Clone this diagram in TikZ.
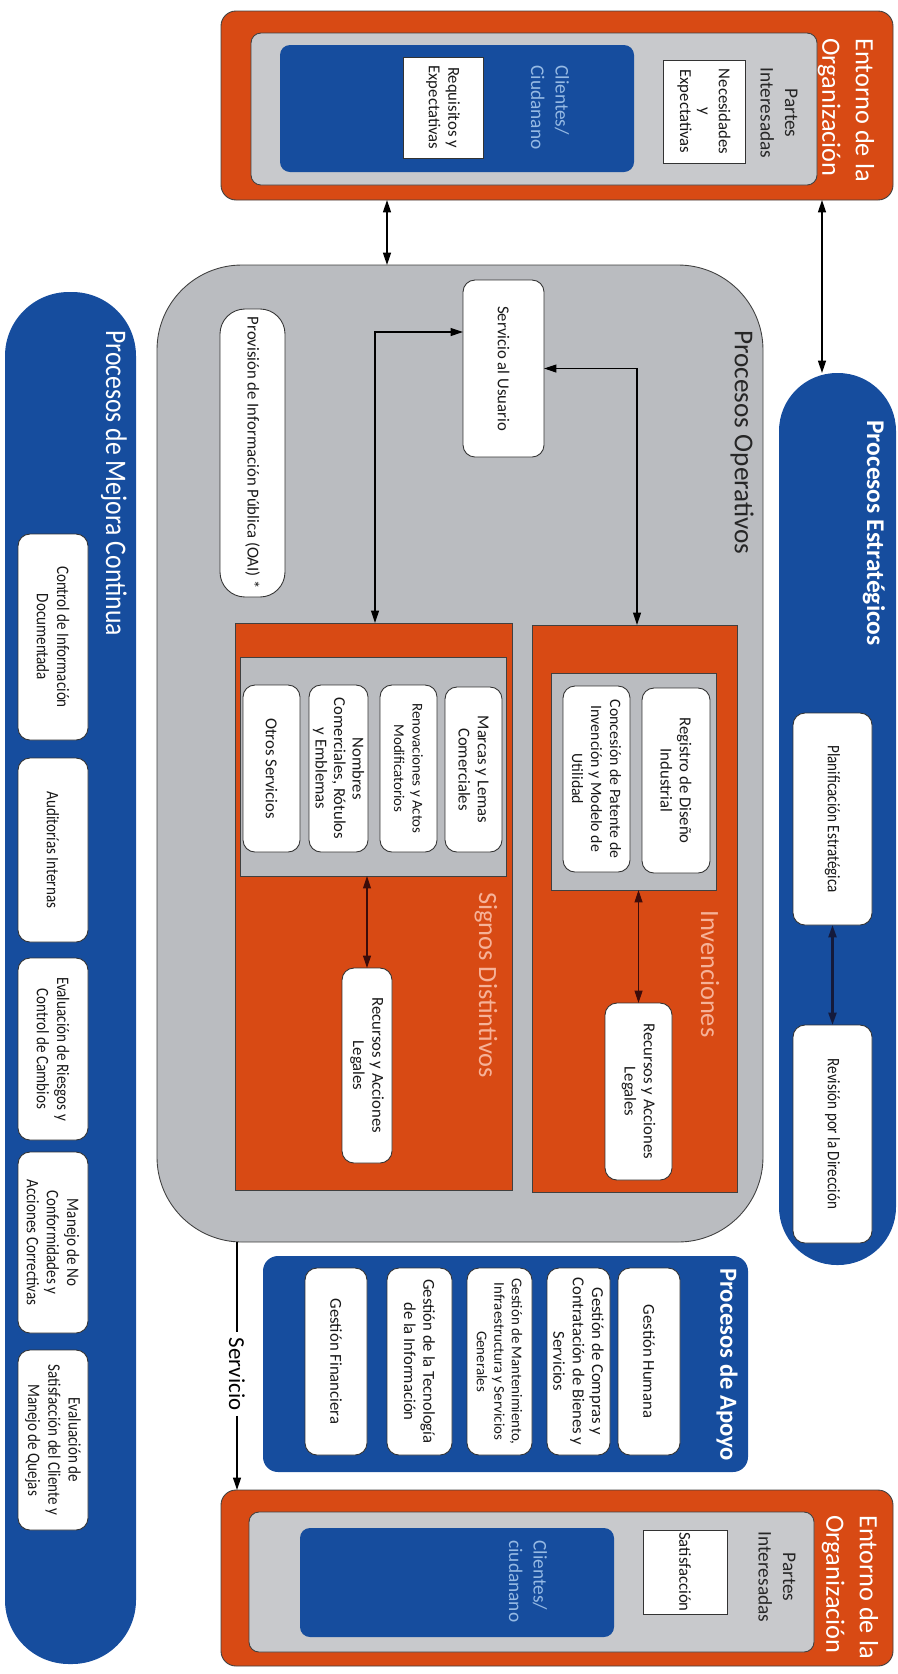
\documentclass[tikz,border=0pt]{standalone}
\usepackage{fontspec}
\setmainfont{Carlito}
\newfontfamily\condfont[FakeStretch=0.86]{Carlito}
\usetikzlibrary{arrows.meta}

\definecolor{orgred}{RGB}{216,74,20}
\definecolor{procblue}{RGB}{22,77,158}
\definecolor{opgray}{RGB}{186,188,192}
\definecolor{envgray}{RGB}{200,201,204}
\definecolor{cliblue}{RGB}{150,186,228}
\definecolor{salmon}{RGB}{246,178,152}
\definecolor{navyline}{RGB}{20,26,60}
\definecolor{darkred}{RGB}{60,12,10}

\tikzset{
  panel/.style={inner sep=0pt, outer sep=0pt},
  orangepanel/.style={panel, fill=orgred, draw=black!75, line width=0.5pt},
  graypanel/.style={panel, fill=opgray, draw=black!75, line width=0.5pt},
  bluepanel/.style={panel, fill=procblue},
  whitebox/.style={panel, fill=white, draw=black!80, line width=0.5pt, rounded corners=0.24cm,
    align=center, text=black!90, font=\fontsize{9.5}{11}\selectfont},
  sqbox/.style={whitebox, rounded corners=0pt},
  condbox/.style={whitebox, font=\condfont\fontsize{10}{11.5}\selectfont},
  title/.style={inner sep=0pt, align=left, rotate=-90, anchor=west, font=\fontsize{15}{19}\selectfont},
  dblarrow/.style={{Triangle[length=7pt,width=4.5pt]}-{Triangle[length=7pt,width=4.5pt]}, line width=0.6pt},
}

\begin{document}
\begin{tikzpicture}[x=0.02cm, y=-0.02cm] % 1 unit = 1 px of the page
    \useasboundingbox (0,0) rectangle (898,1674);

    % area box without text: name, x1, y1, x2, y2, style
    \def\panelat#1#2#3#4#5#6{\node[#6, minimum width={(#4-#2)*0.02cm}, minimum height={(#5-#3)*0.02cm}] (#1) at ({(#2+#4)/2},{(#3+#5)/2}) {};}
    % turned text box: name, x1, y1, x2, y2, style, text
    \def\tbox#1#2#3#4#5#6#7{\node[#6, rotate=-90, minimum width={(#5-#3)*0.02cm}, minimum height={(#4-#2)*0.02cm}] (#1) at ({(#2+#4)/2},{(#3+#5)/2}) {#7};}

    % Entorno de la Organizacion (top)
    \panelat{ent1}{221}{11}{893}{200}{orangepanel, rounded corners=0.3cm}
    \panelat{env1}{251}{33}{817}{185}{panel, fill=envgray, draw=black!75, line width=0.5pt, rounded corners=0.2cm}
    \panelat{cli1}{280}{45}{634}{172}{bluepanel, rounded corners=0.2cm}
    \tbox{req}{403}{57}{483}{158}{sqbox}{Requisitos y\\Expectativas}
    \tbox{nec}{663}{60}{745}{163}{sqbox}{Necesidades\\y\\Expectativas}
    \node[title, anchor=center, align=center, font=\fontsize{11}{14}\selectfont, text=black!85] (pi1) at (779,113) {Partes\\Interesadas};
    \node[title, font=\fontsize{11}{14}\selectfont, text=cliblue] (cl1) at (550,65) {Clientes/\\Ciudanano};
    \node[title, text=white] (et1) at (846,38) {Entorno de la\\Organización};

    % Procesos Operativos
    \panelat{ops}{157}{265}{763}{1242}{graypanel, rounded corners=1.7cm}
    \node[title, text=black!85, font=\fontsize{15.5}{19}\selectfont] (opt) at (742,330) {Procesos Operativos};
    \tbox{srv}{463}{280}{544}{457}{whitebox}{Servicio al Usuario}
    \tbox{prov}{220}{309}{285}{597}{whitebox, rounded corners=0.5cm}{Provisión de Información Pública (OAI) *}

    % Invenciones
    \panelat{inv}{532}{625}{737}{1192}{orangepanel}
    \panelat{ing}{551}{673}{716}{890}{graypanel}
    \tbox{reg}{642}{688}{710}{873}{whitebox}{Registro de Diseño\\Industrial}
    \tbox{con}{563}{686}{630}{872}{whitebox, font=\fontsize{9}{10.8}\selectfont}{Concesión de Patente de\\Invención y Modelo de\\Utilidad}
    \tbox{rinv}{605}{1003}{672}{1180}{whitebox}{Recursos y Acciones\\Legales}
    \node[title, text=salmon] (invt) at (710,910) {Invenciones};

    % Signos Distintivos
    \panelat{sig}{235}{623}{512}{1190}{orangepanel}
    \panelat{sgg}{240}{657}{506}{876}{graypanel}
    \tbox{mar}{445}{687}{502}{852}{whitebox}{Marcas y Lemas\\Comerciales}
    \tbox{ren}{380}{685}{437}{852}{whitebox, font=\fontsize{8.5}{10.5}\selectfont}{Renovaciones y Actos\\Modificatorios}
    \tbox{nom}{309}{685}{368}{852}{whitebox, font=\fontsize{9.5}{10.5}\selectfont}{Nombres\\Comerciales, Rótulos\\y Emblemas}
    \tbox{otr}{243}{685}{300}{852}{whitebox}{Otros Servicios}
    \tbox{rsig}{342}{968}{392}{1163}{whitebox}{Recursos y Acciones\\Legales}
    \node[title, text=salmon] (sigt) at (486,892) {Signos Distintivos};

    % Procesos Estrategicos
    \panelat{est}{779}{373}{896}{1265}{bluepanel, rounded corners=1.16cm}
    \node[title, text=white, font=\bfseries\fontsize{14.5}{18}\selectfont] (estt) at (874,420) {Procesos Estratégicos};
    \tbox{pla}{793}{713}{872}{925}{condbox}{Planificación Estratégica}
    \tbox{rev}{793}{1025}{872}{1243}{condbox}{Revisión por la Dirección}

    % Procesos de Apoyo
    \panelat{apo}{263}{1256}{748}{1472}{bluepanel, rounded corners=0.3cm}
    \node[title, text=white, font=\bfseries\fontsize{14}{18}\selectfont] (apot) at (727,1268) {Procesos de Apoyo};
    \tbox{ghu}{618}{1268}{680}{1455}{whitebox}{Gestión Humana}
    \tbox{gco}{547}{1268}{610}{1455}{whitebox}{Gestión de Compras y\\Contratación de Bienes y\\Servicios}
    \tbox{gma}{467}{1268}{532}{1455}{whitebox, font=\fontsize{8.5}{10}\selectfont}{Gestión de Mantenimiento,\\Infraestructura y Servicios\\Generales}
    \tbox{gte}{387}{1268}{452}{1455}{whitebox}{Gestión de la Tecnología\\de la Información}
    \tbox{gfi}{305}{1268}{367}{1455}{whitebox}{Gestión Financiera}

    % Procesos de Mejora Continua
    \panelat{mej}{5}{292}{136}{1664}{bluepanel, rounded corners=1.28cm}
    \node[title, text=white, font=\condfont\fontsize{17}{20}\selectfont] (mejt) at (114,330) {Procesos de Mejora Continua};
    \tbox{cid}{18}{534}{88}{740}{condbox}{Control de Información\\Documentada}
    \tbox{aud}{18}{758}{88}{942}{condbox}{Auditorías Internas}
    \tbox{rie}{18}{958}{88}{1140}{condbox}{Evaluación de Riesgos y\\Control de Cambios}
    \tbox{nco}{18}{1152}{88}{1333}{condbox}{Manejo de No\\Conformidades y\\Acciones Correctivas}
    \tbox{esc}{18}{1350}{88}{1530}{condbox}{Evaluación de\\Satisfacción del Cliente y\\Manejo de Quejas}

    % Entorno de la Organizacion (bottom)
    \panelat{ent2}{221}{1490}{893}{1666}{orangepanel, rounded corners=0.3cm}
    \panelat{env2}{249}{1512}{814}{1652}{panel, fill=envgray, draw=black!75, line width=0.5pt, rounded corners=0.2cm}
    \panelat{cli2}{300}{1528}{614}{1637}{bluepanel, rounded corners=0.2cm}
    \tbox{sat}{643}{1530}{727}{1614}{sqbox}{Satisfacción}
    \node[title, anchor=center, align=center, font=\fontsize{11}{14}\selectfont, text=black!85] (pi2) at (777,1577) {Partes\\Interesadas};
    \node[title, font=\fontsize{11}{14}\selectfont, text=cliblue] (cl2) at (528,1540) {Clientes/\\ciudanano};
    \node[title, text=white] (et2) at (850,1515) {Entorno de la\\Organización};

    % connectors
    \coordinate (a1) at (387,0);
    \coordinate (a2) at (822,0);
    \coordinate (ly) at (0,332);
    \coordinate (c375) at (375,0);
    \coordinate (c637) at (637,0);
    \draw[dblarrow, line width=0.9pt] (ent1.south -| a1) -- (ops.north -| a1);
    \draw[dblarrow, line width=0.9pt] (ent1.south -| a2) -- (est.north -| a2);
    \draw[dblarrow] (sig.north -| c375) |- (srv.south |- ly);
    \draw[dblarrow] (inv.north -| c637) |- (srv.north);
    \draw[dblarrow, draw=darkred] (ing.south -| rinv.west) -- (rinv.west);
    \draw[dblarrow, draw=darkred] (sgg.south -| rsig.west) -- (rsig.west);
    \draw[dblarrow, draw=navyline, line width=1.3pt] (pla.east) -- (rev.west);

    % Servicio
    \node[inner sep=3pt, rotate=-90, font=\fontsize{13}{15}\selectfont] (svc) at (237,1374) {Servicio};
    \draw[line width=0.6pt] (ops.south -| svc) -- (svc.west);
    \draw[-{Triangle[length=7pt,width=4.5pt]}, line width=0.6pt] (svc.east) -- (ent2.north -| svc);
\end{tikzpicture}
\end{document}
